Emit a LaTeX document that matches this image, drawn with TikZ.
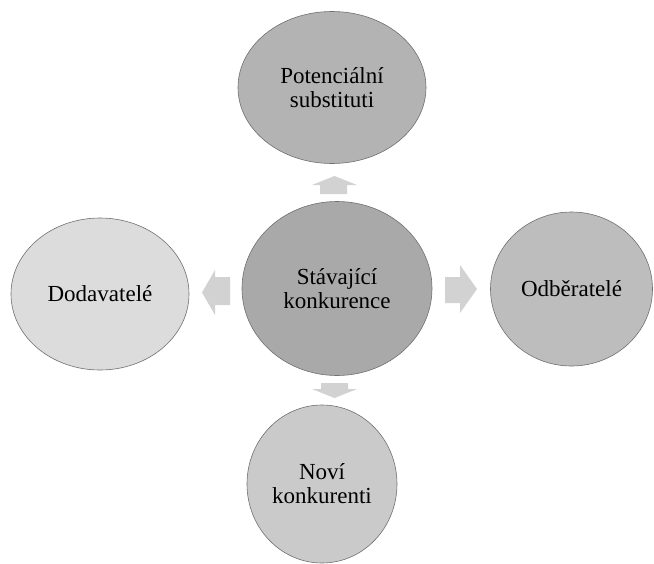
\documentclass[tikz,border=0pt]{standalone}
\usepackage{fontspec}
\setmainfont{Liberation Serif}
\usetikzlibrary{shapes.geometric}
\definecolor{edgegray}{HTML}{707070}
\definecolor{topfill}{HTML}{B3B3B3}
\definecolor{centerfill}{HTML}{A9A9A9}
\definecolor{leftfill}{HTML}{DCDCDC}
\definecolor{rightfill}{HTML}{BDBDBD}
\definecolor{bottomfill}{HTML}{CACACA}
\definecolor{arrowfill}{HTML}{D2D2D2}
\tikzset{
  bubble/.style={ellipse, draw=edgegray, line width=0.6pt, inner sep=0pt,
    align=center, font=\fontsize{23}{24}\selectfont, text=black},
  blockarrow/.style={fill=arrowfill, draw=none}
}
\begin{document}
\begin{tikzpicture}[x=1pt,y=-1pt]
\clip (0,0) rectangle (654,563);
\fill[white] (0,0) rectangle (654,563);
\node[bubble, fill=topfill, minimum width=188pt, minimum height=152pt] (top) at (332,87.5) {Potenciální\\substituti};
\node[bubble, fill=centerfill, minimum width=190pt, minimum height=174pt] (center) at (337,288.5) {Stávající\\konkurence};
\node[bubble, fill=leftfill, minimum width=178pt, minimum height=152pt] (left) at (100,294) {Dodavatelé};
\node[bubble, fill=rightfill, minimum width=162pt, minimum height=154pt] (right) at (571.5,289) {Odběratelé};
\node[bubble, fill=bottomfill, minimum width=150pt, minimum height=158pt] (bottom) at (322,484) {Noví\\konkurenti};
% block arrows
\fill[blockarrow] (320,194) -- (320,185) -- (312,185) -- (334.5,176) -- (357,185) -- (347,185) -- (347,194) -- cycle;
\fill[blockarrow] (321,383) -- (348,383) -- (348,389) -- (357,389) -- (334.5,398) -- (312,389) -- (321,389) -- cycle;
\fill[blockarrow] (445,277) -- (460,277) -- (460,265) -- (477,289) -- (460,313) -- (460,303) -- (445,303) -- cycle;
\fill[blockarrow] (230,277) -- (215,277) -- (215,270) -- (202,292.5) -- (215,315) -- (215,305) -- (230,305) -- cycle;
\end{tikzpicture}
\end{document}
